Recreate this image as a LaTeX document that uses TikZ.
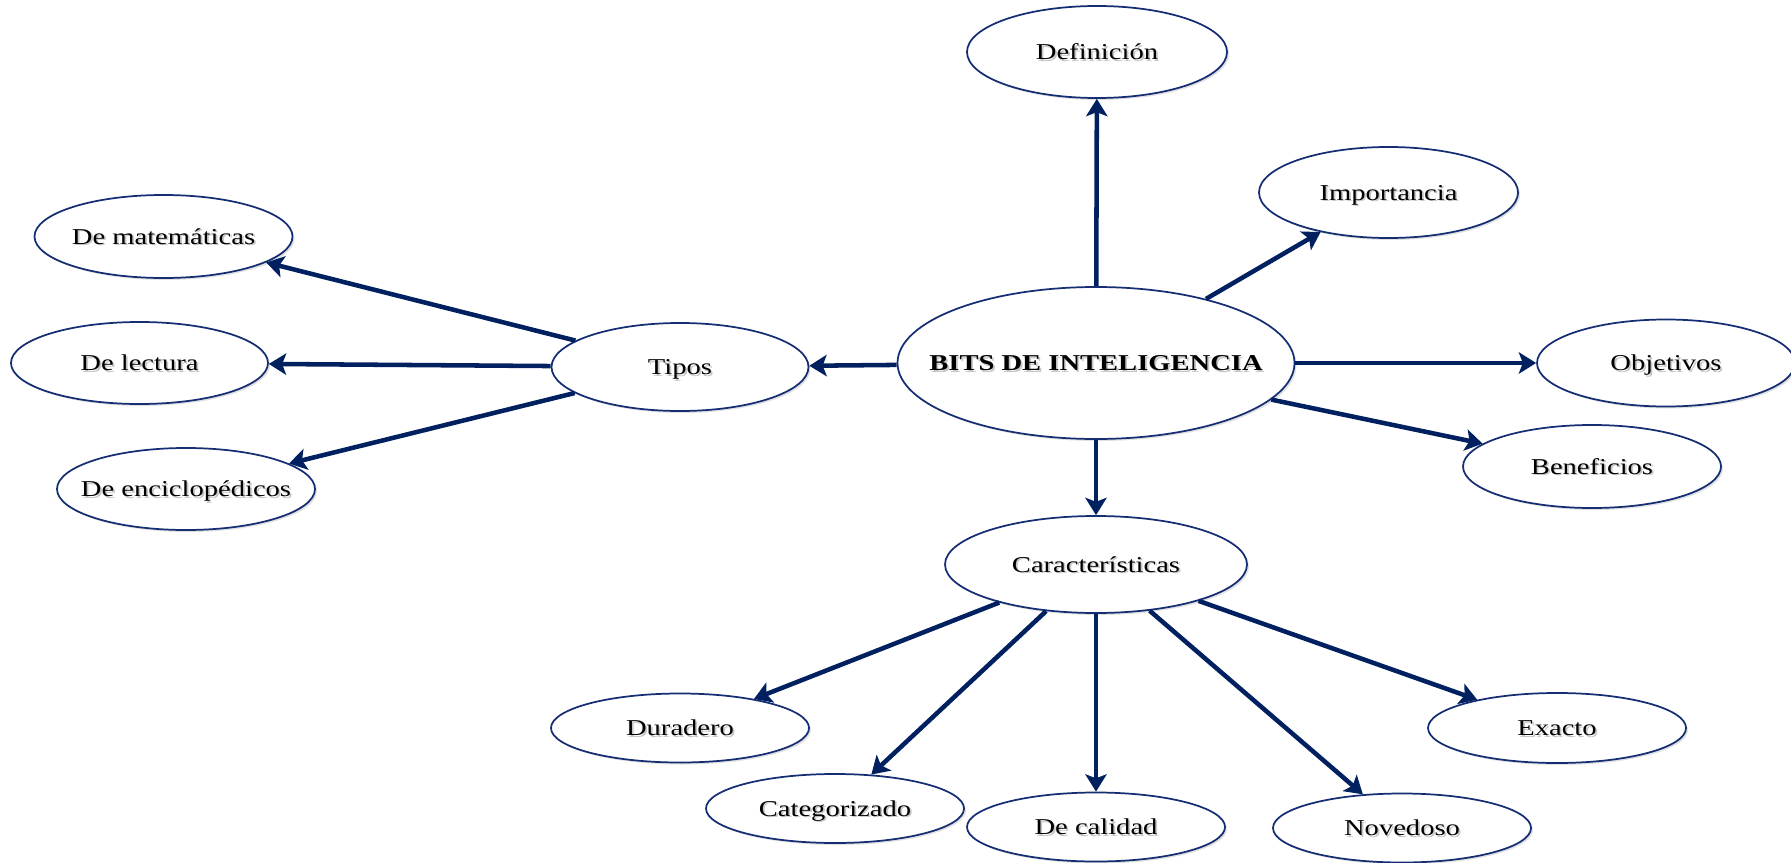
\documentclass[tikz,border=0pt]{standalone}
\usepackage{fontspec}
\setmainfont{Liberation Serif}[FakeStretch=1.26]
\usetikzlibrary{shapes.geometric, arrows.meta, shadows}
\definecolor{navy}{RGB}{0,32,96}
\definecolor{rim}{RGB}{20,45,115}
\newcommand\shd[1]{\makebox[0pt]{\raisebox{-1.3pt}{\hspace{2.6pt}\color{black!22}#1}}\makebox[0pt]{#1}}
\tikzset{
  bub/.style 2 args={ellipse, draw=rim, line width=1.3pt, fill=white, inner sep=0pt,
    minimum width=#1*1.5pt, minimum height=#2*1.5pt, text height=11.25pt, text depth=0pt,
    drop shadow={shadow xshift=1.5pt, shadow yshift=-1.5pt, opacity=0.12, fill=black},
    font=\fontsize{17}{20}\selectfont},
  conn/.style={-{Stealth[length=13pt,width=16pt,inset=3pt]}, line width=3.4pt, draw=navy}
}
\begin{document}
\begin{tikzpicture}[x=0.75pt,y=-0.75pt]
\useasboundingbox (0,0) rectangle (1791,863);
\node[bub={198.5}{76}] (c) at (1096,363) {\shd{\bfseries BITS DE INTELIGENCIA}};
\node[bub={130}{46}] (def) at (1097,52) {\shd{Definición}};
\node[bub={129.5}{45.5}] (imp) at (1388.5,192.5) {\shd{Importancia}};
\node[bub={129}{43.5}] (obj) at (1666,363) {\shd{Objetivos}};
\node[bub={129}{41.5}] (ben) at (1592,466.5) {\shd{Beneficios}};
\node[bub={128.5}{44}] (tip) at (680,367) {\shd{Tipos}};
\node[bub={129}{41.5}] (mat) at (163.5,236.5) {\shd{De matemáticas}};
\node[bub={128.5}{41}] (lec) at (139.5,363) {\shd{De lectura}};
\node[bub={129}{41}] (enc) at (186,489) {\shd{De enciclopédicos}};
\node[bub={151}{48.5}] (car) at (1096,564.5) {\shd{Características}};
\node[bub={129}{34.5}] (dur) at (680,728) {\shd{Duradero}};
\node[bub={129}{34.5}] (cat) at (835,808.5) {\shd{Categorizado}};
\node[bub={129}{34.5}] (cal) at (1096,827) {\shd{De calidad}};
\node[bub={129}{34.5}] (nov) at (1402,828) {\shd{Novedoso}};
\node[bub={129}{35}] (exa) at (1557,728) {\shd{Exacto}};
\draw[conn] (c) -- (def);
\draw[conn] (c) -- (imp);
\draw[conn] (c) -- (obj);
\draw[conn] (c) -- (ben);
\draw[conn] (c) -- (tip);
\draw[conn] (c) -- (car);
\draw[conn] (tip) -- (mat);
\draw[conn] (tip) -- (lec);
\draw[conn] (tip) -- (enc);
\draw[conn] (car) -- (dur);
\draw[conn] (car) -- (cat);
\draw[conn] (car) -- (cal);
\draw[conn] (car) -- (nov);
\draw[conn] (car) -- (exa);
\end{tikzpicture}
\end{document}
